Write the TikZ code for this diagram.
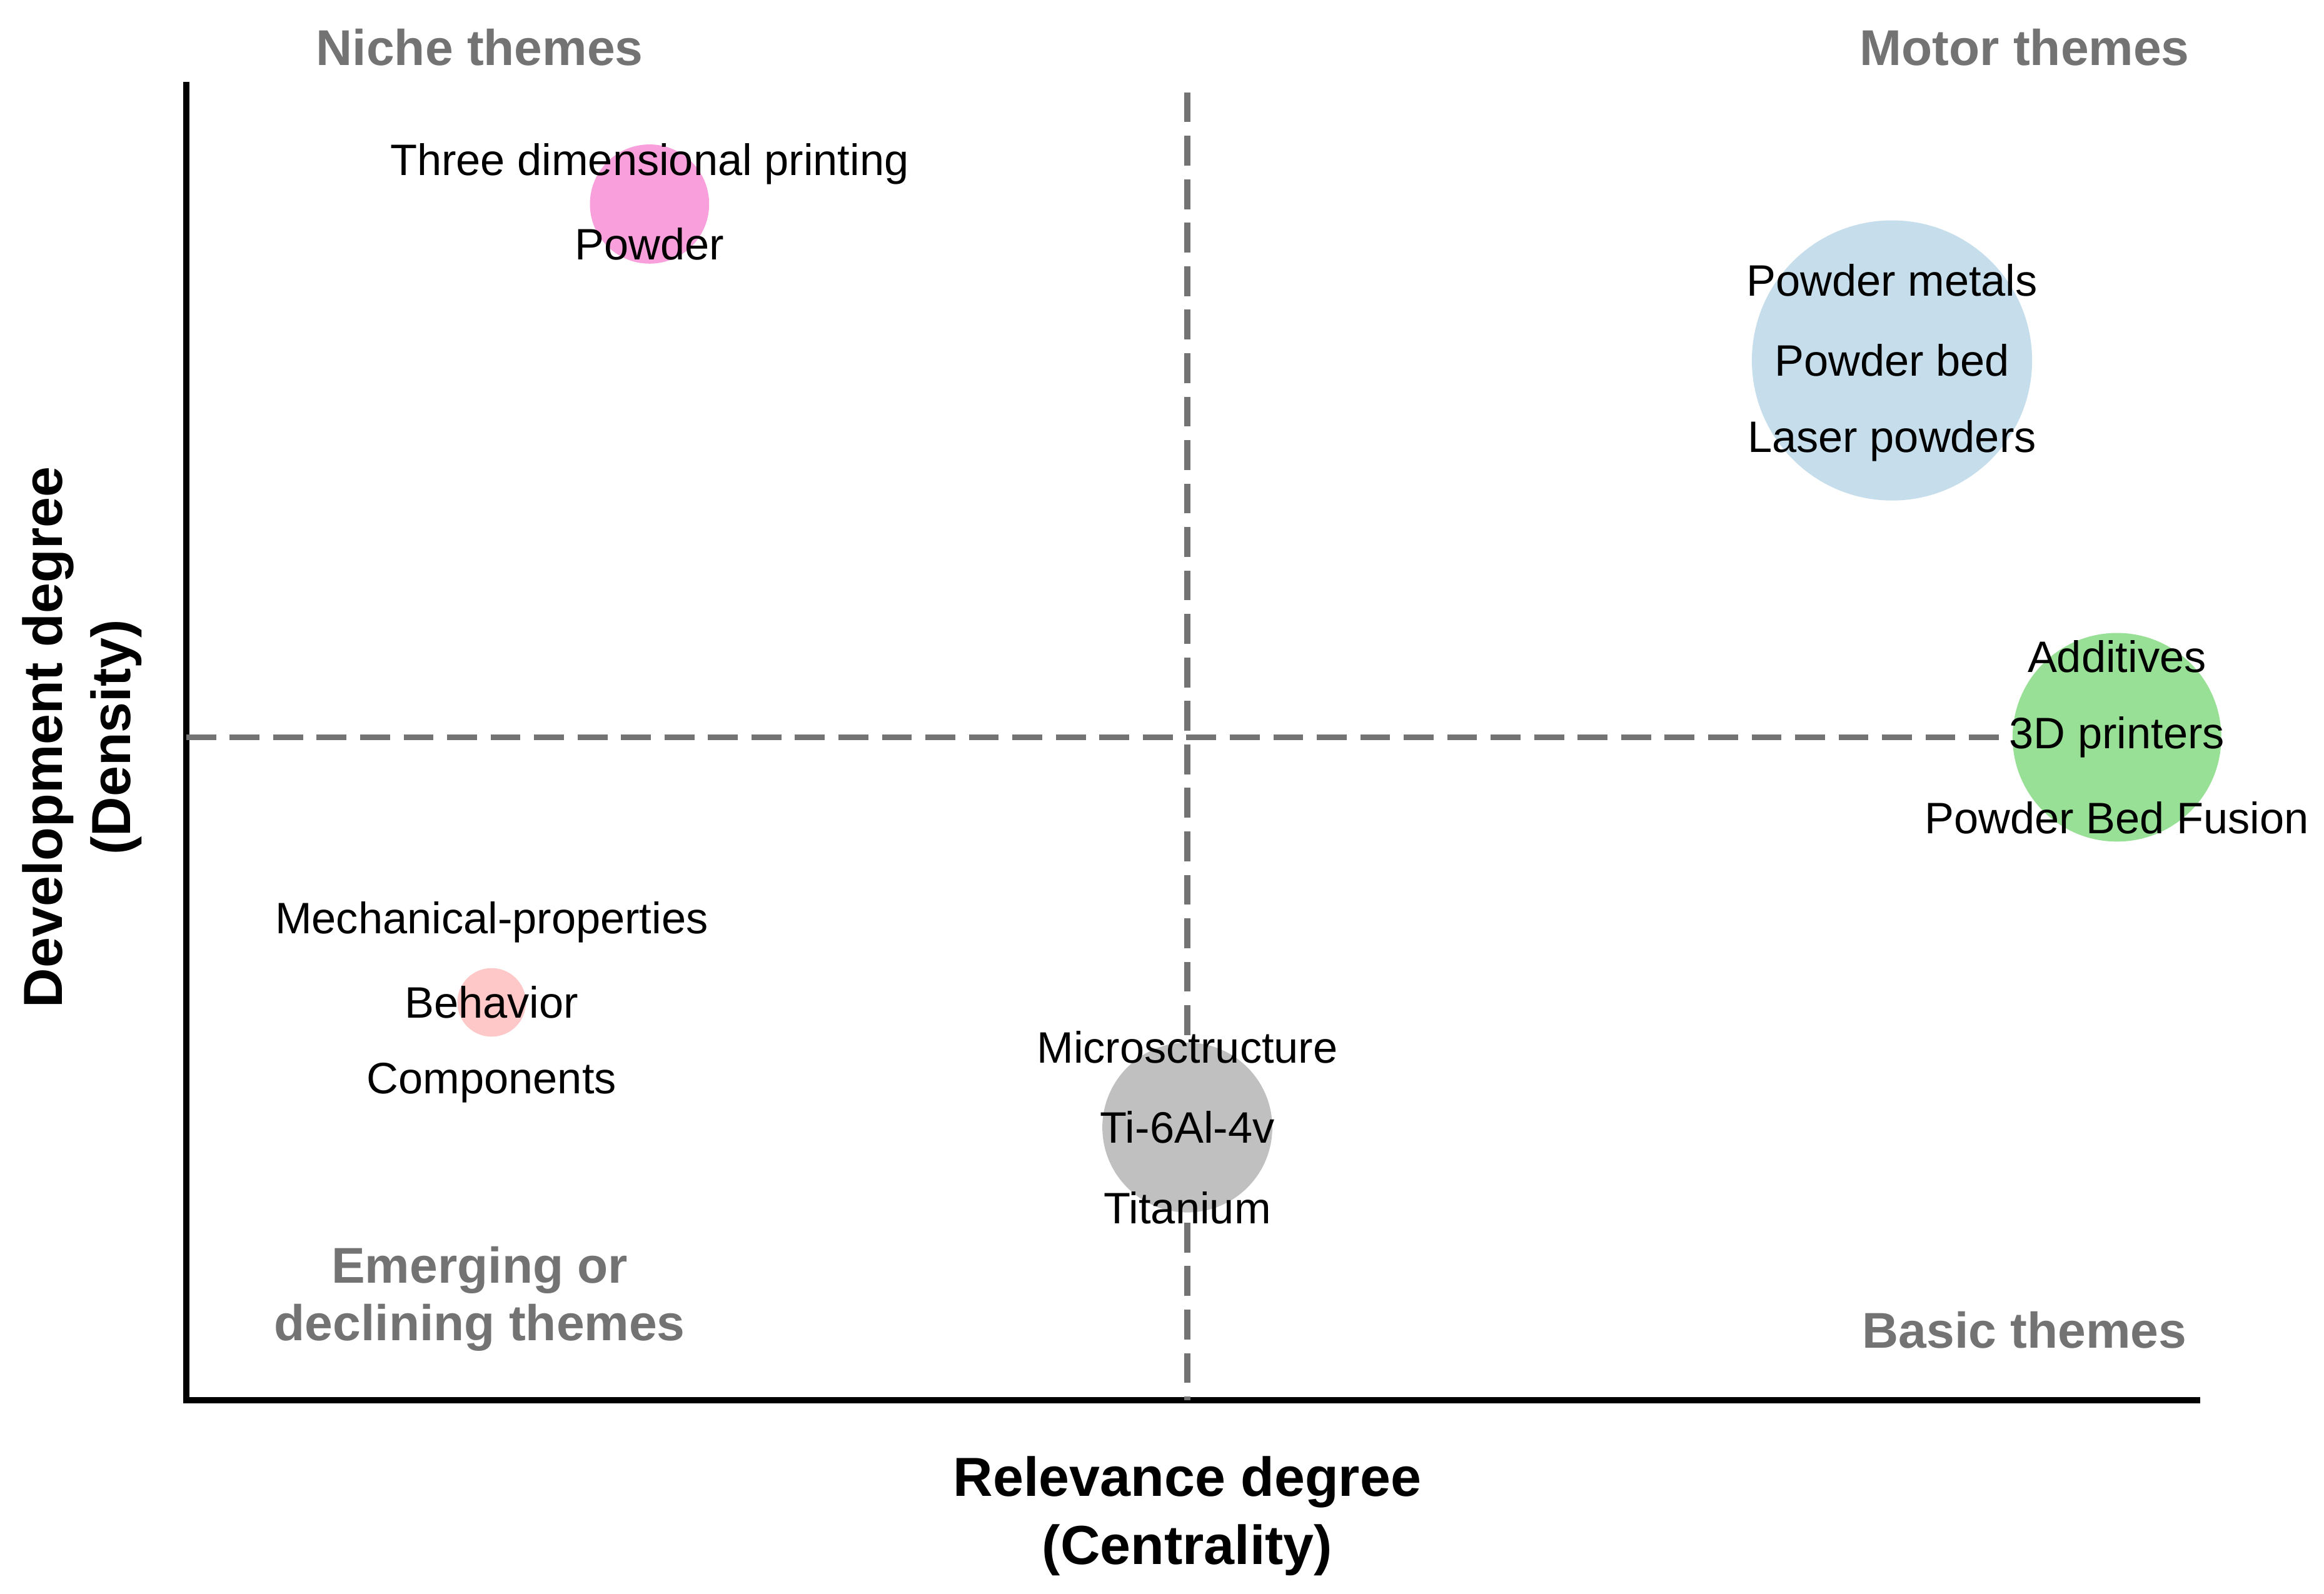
\documentclass[tikz,border=0pt]{standalone}
\usepackage{fontspec}
\setmainfont{Liberation Sans}
\begin{document}
\begin{tikzpicture}[x=0.01cm,y=-0.01cm]
\useasboundingbox (0,0) rectangle (1560,1070);

\tikzstyle{quad}=[font=\fontsize{9.6}{11}\selectfont\bfseries,text=black!55,align=center]
\tikzstyle{axlab}=[font=\fontsize{10.5}{13}\selectfont\bfseries,align=center]
\tikzstyle{lab}=[font=\fontsize{8.4}{10}\selectfont]
\tikzstyle{bub}=[circle,draw=none,inner sep=0pt]
\tikzstyle{split}=[dash pattern=on 5.7pt off 2.6pt,line width=1.1pt,draw=black!55]
\definecolor{cpink}{HTML}{F9A0DC}
\definecolor{cblue}{HTML}{C6DEEC}
\definecolor{cgreen}{HTML}{98E095}
\definecolor{clight}{HTML}{FFC8C8}
\definecolor{cgray}{HTML}{C0C0C0}

%axes
\coordinate (top) at (125,55);
\coordinate (org) at (125,940);
\coordinate (right) at (1477,940);
\draw[line width=1.2pt] (top) -- (org) -- (right);

%quadrant split
\coordinate (vtop) at (797,62);
\coordinate (vbot) at (797,940);
\coordinate (hl) at (125,495);
\coordinate (hr) at (1355,495);
\draw[split] (vtop) -- (vbot);
\draw[split] (hl) -- (hr);

%bubbles
\node[bub,fill=cpink,minimum size=0.8cm] (printing) at (436,137) {};
\node[bub,fill=cblue,minimum size=1.88cm] (powders) at (1270,242) {};
\node[bub,fill=cgreen,minimum size=1.4cm] (fusion) at (1421,495) {};
\node[bub,fill=clight,minimum size=0.46cm] (behavior) at (330,673) {};
\node[bub,fill=cgray,minimum size=1.14cm] (titanium) at (797,757) {};

%cluster labels
\node[lab] (p1) at (436,110) {Three dimensional printing};
\node[lab] (p2) at (436,164) {Powder};
\node[lab] (b1) at (1270,188) {Powder metals};
\node[lab] (b2) at (1270,242) {Powder bed};
\node[lab] (b3) at (1270,296) {Laser powders};
\node[lab] (g1) at (1421,441) {Additives};
\node[lab] (g2) at (1421,495) {3D printers};
\node[lab] (g3) at (1421,549) {Powder Bed Fusion};
\node[lab] (m1) at (330,619) {Mechanical-properties};
\node[lab] (m2) at (330,673) {Behavior};
\node[lab] (m3) at (330,727) {Components};
\node[lab] (t1) at (797,703) {Microsctructure};
\node[lab] (t2) at (797,757) {Ti-6Al-4v};
\node[lab] (t3) at (797,811) {Titanium};

%quadrants
\node[quad] (niche) at (322,32) {Niche themes};
\node[quad] (motor) at (1359,32) {Motor themes};
\node[quad] (emerg) at (322,872) {Emerging or\\declining themes};
\node[quad] (basic) at (1359,893) {Basic themes};

%axis labels
\node[axlab] (xlab) at (797,1018) {Relevance degree\\(Centrality)};
\node[axlab,rotate=90] (ylab) at (55,495) {Development degree\\(Density)};

\end{tikzpicture}
\end{document}
